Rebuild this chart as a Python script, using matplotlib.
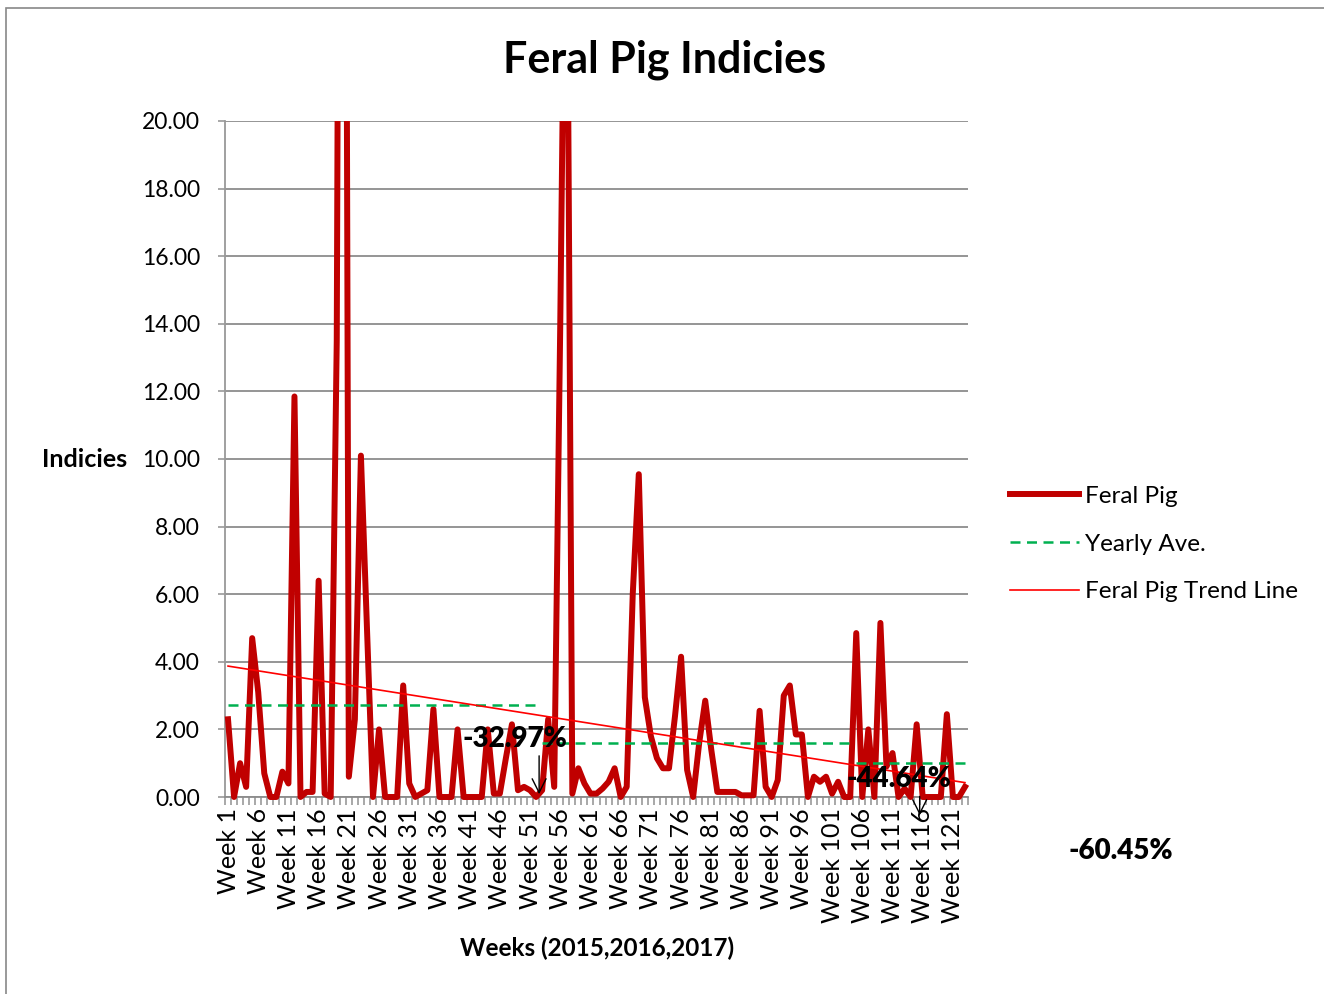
import numpy as np
import matplotlib.pyplot as plt
from matplotlib.patches import Rectangle

plt.rcParams['font.family'] = ['Lato', 'DejaVu Sans']

# weekly feral pig indices, weeks 1..123
weeks = np.arange(1, 124)
feral_pig = [
    2.3, 0.0, 1.0, 0.3, 4.7, 3.1, 0.7, 0.0, 0.0, 0.75,      # 1-10
    0.4, 11.85, 0.0, 0.15, 0.15, 6.4, 0.1, 0.0, 13.5, 62.0,  # 11-20
    0.6, 2.3, 10.1, 5.0, 0.0, 2.0, 0.0, 0.0, 0.0, 3.3,       # 21-30
    0.4, 0.0, 0.1, 0.2, 2.6, 0.0, 0.0, 0.0, 2.0, 0.0,        # 31-40
    0.0, 0.0, 0.0, 2.0, 0.1, 0.1, 1.15, 2.15, 0.2, 0.3,      # 41-50
    0.2, 0.0, 0.2, 2.3, 0.3, 14.0, 30.0, 0.1, 0.85, 0.4,     # 51-60
    0.1, 0.1, 0.25, 0.45, 0.85, 0.0, 0.3, 6.0, 9.55, 2.95,   # 61-70
    1.8, 1.15, 0.85, 0.85, 2.4, 4.15, 0.8, 0.0, 1.6, 2.85,   # 71-80
    1.4, 0.15, 0.15, 0.15, 0.15, 0.05, 0.05, 0.05, 2.55, 0.3,  # 81-90
    0.0, 0.5, 3.0, 3.3, 1.85, 1.85, 0.0, 0.6, 0.45, 0.6,     # 91-100
    0.1, 0.45, 0.0, 0.0, 4.85, 0.0, 2.0, 0.0, 5.15, 0.9,     # 101-110
    1.3, 0.0, 0.25, 0.0, 2.15, 0.0, 0.0, 0.0, 0.0, 2.45,     # 111-120
    0.0, 0.0, 0.3,                                           # 121-123
]

# yearly averages: (first week, last week, value)
year_start = [1, 53, 105]
year_end = [52, 104, 123]
year_ave = [2.72, 1.60, 1.00]

# percent change labels
pct_labels = ['-32.97%', '-44.64%', '-60.45%']

tick_weeks = list(range(1, 124, 5))
tick_labels = ['Week %d' % w for w in tick_weeks]

# linear trend line through the weekly data
coef = np.polyfit(weeks, feral_pig, 1)
trend = np.polyval(coef, weeks)

fig = plt.figure(figsize=(13.24, 9.94), dpi=100)
ax = fig.add_axes([225/1324, 1-797/994, 743/1324, 676/994])

# chart area border (partly cut off like the screenshot)
fig.patches.append(Rectangle((6/1324, -0.01), 1.1, 1-8/994+0.01, transform=fig.transFigure,
                             fill=False, edgecolor='#888888', linewidth=1.2))

clip = Rectangle((-0.01, -0.03), 1.02, 1.03, transform=ax.transAxes, visible=False)
ax.add_patch(clip)

line_pig, = ax.plot(weeks, feral_pig, color='#C00000', linewidth=4.3, solid_joinstyle='round',
                    label='Feral Pig', zorder=3)
line_pig.set_clip_path(clip)

for i in range(len(year_ave)):
    xs = np.arange(year_start[i], year_end[i] + 1)
    ax.plot(xs, np.full(len(xs), year_ave[i]), color='#00B050', linewidth=1.8,
            dashes=(4, 2.6), label='Yearly Ave.' if i == 0 else None, zorder=4)

ax.plot(weeks, trend, color='#FF0000', linewidth=1.2, label='Feral Pig Trend Line', zorder=5)

ax.set_xlim(0.5, 123.5)
ax.set_ylim(0, 20)
ax.set_yticks(np.arange(0, 21, 2))
ax.set_yticklabels(['%.2f' % v for v in np.arange(0, 21, 2)])
ax.set_xticks(tick_weeks)
ax.set_xticklabels(tick_labels, rotation=90)
ax.set_xticks(np.arange(0.5, 124, 1), minor=True)
ax.tick_params(axis='x', which='major', length=0, pad=8, labelsize=18)
ax.tick_params(axis='x', which='minor', length=6, width=1.2, color='#999999')
ax.tick_params(axis='y', length=5, width=1.2, color='#999999', labelsize=16.5, pad=13)

ax.grid(axis='y', color='#8C8C8C', linewidth=1.3)
ax.set_axisbelow(True)
for s in ['top', 'right']:
    ax.spines[s].set_visible(False)
ax.spines['left'].set_color('#999999')
ax.spines['left'].set_linewidth(1.3)
ax.spines['bottom'].set_color('#8C8C8C')
ax.spines['bottom'].set_linewidth(1.3)

fig.text(665/1324, 1-60/994, 'Feral Pig Indicies', fontsize=31, fontweight='bold',
         ha='center', va='center')
fig.text(85/1324, 1-460/994, 'Indicies', fontsize=18, fontweight='bold', ha='center', va='center')
fig.text(597/1324, 1-948/994, 'Weeks (2015,2016,2017)', fontsize=17.5, fontweight='bold',
         ha='center', va='center')

# percent change annotations
ax.annotate('', xy=(52.5, 0.0), xytext=(52.5, 1.3),
            arrowprops=dict(arrowstyle='->', color='black', lw=1.0, mutation_scale=25))
ax.text(48.5, 1.72, pct_labels[0], fontsize=20, fontweight='heavy', ha='center', va='center', zorder=6)
ax.annotate('', xy=(115.5, -0.62), xytext=(115.5, 0.1),
            arrowprops=dict(arrowstyle='->', color='black', lw=1.0, mutation_scale=25),
            annotation_clip=False)
ax.text(112.0, 0.53, pct_labels[1], fontsize=20, fontweight='heavy', ha='center', va='center', zorder=6)
fig.text(1121/1324, 1-851/994, pct_labels[2], fontsize=20, fontweight='heavy', ha='center', va='center')

ax.legend(loc='center left', bbox_to_anchor=(1010/1324, 1-544/994), bbox_transform=fig.transFigure,
          frameon=False, fontsize=17.5, handlelength=2.85, handletextpad=0.25, labelspacing=1.1,
          borderaxespad=0, borderpad=0)

fig.savefig('out.png', dpi=100)
